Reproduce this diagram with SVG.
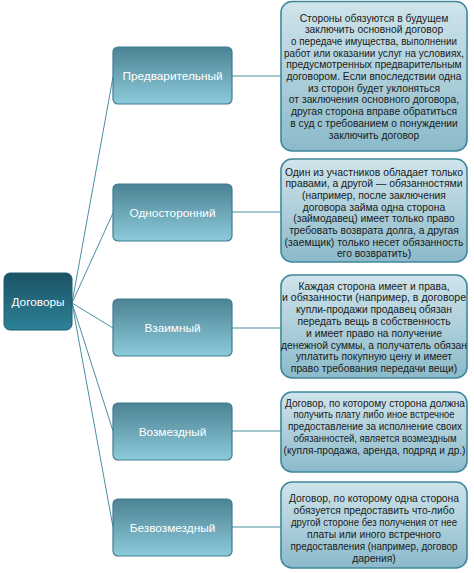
<svg xmlns="http://www.w3.org/2000/svg" width="474" height="573" viewBox="0 0 474 573">
<defs>
<linearGradient id="gRoot" x1="0" y1="0" x2="0" y2="1">
<stop offset="0" stop-color="#1b5264"/><stop offset="1" stop-color="#2c8298"/>
</linearGradient>
<linearGradient id="gMid" x1="0" y1="0" x2="0" y2="1">
<stop offset="0" stop-color="#4c8294"/><stop offset="1" stop-color="#8ccbdb"/>
</linearGradient>
<linearGradient id="gDesc" x1="0" y1="0" x2="0" y2="1">
<stop offset="0" stop-color="#d0e4eb"/><stop offset="1" stop-color="#8bbaca"/>
</linearGradient>
</defs>
<style>
.root{fill:url(#gRoot);stroke:#1f5c6e;stroke-width:1}
.mid{fill:url(#gMid);stroke:#3d7d8f;stroke-width:1.2}
.desc{fill:url(#gDesc);stroke:#3f889c;stroke-width:1.6}
.lbl{font-family:"Liberation Sans",Arial,sans-serif;fill:#ffffff;text-anchor:middle;font-size:11.8px}
.dt{font-family:"Liberation Sans",Arial,sans-serif;fill:#1a1a1a;text-anchor:middle;font-size:10.3px}
.con{stroke:#4b8fa2;stroke-width:1;fill:none}
</style>
<rect width="474" height="573" fill="#ffffff"/>
<g id="connectors">
<path class="con" d="M72 303 L113 77"/>
<path class="con" d="M72 303 L113 213"/>
<path class="con" d="M72 303 L113 328"/>
<path class="con" d="M72 303 L113 431"/>
<path class="con" d="M72 303 L113 527"/>
<path class="con" d="M232 76 L281 76"/>
<path class="con" d="M232 212 L281 212"/>
<path class="con" d="M232 328 L281 328"/>
<path class="con" d="M232 431 L281 431"/>
<path class="con" d="M232 527 L281 527"/>
</g>
<g id="root">
<rect class="root" x="4" y="273" width="68" height="57" rx="6"/>
<text class="lbl" x="38" y="306" font-size="13">Договоры</text>
</g>
<g id="n1">
<rect class="mid" x="113" y="47" width="119" height="57" rx="5"/>
<text class="lbl" x="172.5" y="80">Предварительный</text>
</g>
<g id="n2">
<rect class="mid" x="113" y="184" width="119" height="57" rx="5"/>
<text class="lbl" x="172.5" y="217">Односторонний</text>
</g>
<g id="n3">
<rect class="mid" x="113" y="299" width="119" height="57" rx="5"/>
<text class="lbl" x="172.5" y="332">Взаимный</text>
</g>
<g id="n4">
<rect class="mid" x="113" y="403" width="119" height="57" rx="5"/>
<text class="lbl" x="172.5" y="436">Возмездный</text>
</g>
<g id="n5">
<rect class="mid" x="113" y="499" width="119" height="57" rx="5"/>
<text class="lbl" x="172.5" y="532">Безвозмездный</text>
</g>
<g id="d1">
<rect class="desc" x="281" y="1.5" width="186" height="149.5" rx="11"/>
<text class="dt" x="374" y="21.5">Стороны обязуются в будущем</text>
<text class="dt" x="374" y="33.2">заключить основной договор</text>
<text class="dt" x="374" y="44.9" textLength="166" lengthAdjust="spacingAndGlyphs">о передаче имущества, выполнении</text>
<text class="dt" x="374" y="56.6" textLength="180" lengthAdjust="spacingAndGlyphs">работ или оказании услуг на условиях,</text>
<text class="dt" x="374" y="68.3">предусмотренных предварительным</text>
<text class="dt" x="374" y="80">договором. Если впоследствии одна</text>
<text class="dt" x="374" y="91.7">из сторон будет уклоняться</text>
<text class="dt" x="374" y="103.4">от заключения основного договора,</text>
<text class="dt" x="374" y="115.1">другая сторона вправе обратиться</text>
<text class="dt" x="374" y="126.8">в суд с требованием о понуждении</text>
<text class="dt" x="374" y="138.5">заключить договор</text>
</g>
<g id="d2">
<rect class="desc" x="281" y="159" width="186" height="103" rx="11"/>
<text class="dt" x="374" y="175.5" textLength="178" lengthAdjust="spacingAndGlyphs">Один из участников обладает только</text>
<text class="dt" x="374" y="187.2" textLength="177" lengthAdjust="spacingAndGlyphs">правами, а другой — обязанностями</text>
<text class="dt" x="374" y="198.9">(например, после заключения</text>
<text class="dt" x="374" y="210.6">договора займа одна сторона</text>
<text class="dt" x="374" y="222.3">(займодавец) имеет только право</text>
<text class="dt" x="374" y="234">требовать возврата долга, а другая</text>
<text class="dt" x="374" y="245.7" textLength="179" lengthAdjust="spacingAndGlyphs">(заемщик) только несет обязанность</text>
<text class="dt" x="374" y="257.4">его возвратить)</text>
</g>
<g id="d3">
<rect class="desc" x="281" y="275" width="186" height="103" rx="11"/>
<text class="dt" x="374" y="289.5">Каждая сторона имеет и права,</text>
<text class="dt" x="374" y="301.3" textLength="184" lengthAdjust="spacingAndGlyphs">и обязанности (например, в договоре</text>
<text class="dt" x="374" y="313.1">купли-продажи продавец обязан</text>
<text class="dt" x="374" y="324.9">передать вещь в собственность</text>
<text class="dt" x="374" y="336.7">и имеет право на получение</text>
<text class="dt" x="374" y="348.5" textLength="186" lengthAdjust="spacingAndGlyphs">денежной суммы, а получатель обязан</text>
<text class="dt" x="374" y="360.3">уплатить покупную цену и имеет</text>
<text class="dt" x="374" y="372.1">право требования передачи вещи)</text>
</g>
<g id="d4">
<rect class="desc" x="281" y="392" width="186" height="80" rx="11"/>
<text class="dt" x="375" y="406.5" textLength="180" lengthAdjust="spacingAndGlyphs">Договор, по которому сторона должна</text>
<text class="dt" x="374" y="418.3" textLength="161" lengthAdjust="spacingAndGlyphs">получить плату либо иное встречное</text>
<text class="dt" x="375" y="430.1" textLength="174" lengthAdjust="spacingAndGlyphs">предоставление за исполнение своих</text>
<text class="dt" x="375" y="441.9" textLength="163" lengthAdjust="spacingAndGlyphs">обязанностей, является возмездным</text>
<text class="dt" x="374.5" y="453.7" textLength="182" lengthAdjust="spacingAndGlyphs">(купля-продажа, аренда, подряд и др.)</text>
</g>
<g id="d5">
<rect class="desc" x="281" y="482" width="186" height="86" rx="11"/>
<text class="dt" x="374" y="501.5">Договор, по которому одна сторона</text>
<text class="dt" x="374" y="513.5">обязуется предоставить что-либо</text>
<text class="dt" x="374" y="525.5" textLength="166" lengthAdjust="spacingAndGlyphs">другой стороне без получения от нее</text>
<text class="dt" x="374" y="537.5">платы или иного встречного</text>
<text class="dt" x="374" y="549.5" textLength="167" lengthAdjust="spacingAndGlyphs">предоставления (например, договор</text>
<text class="dt" x="374" y="561.5">дарения)</text>
</g>
</svg>
